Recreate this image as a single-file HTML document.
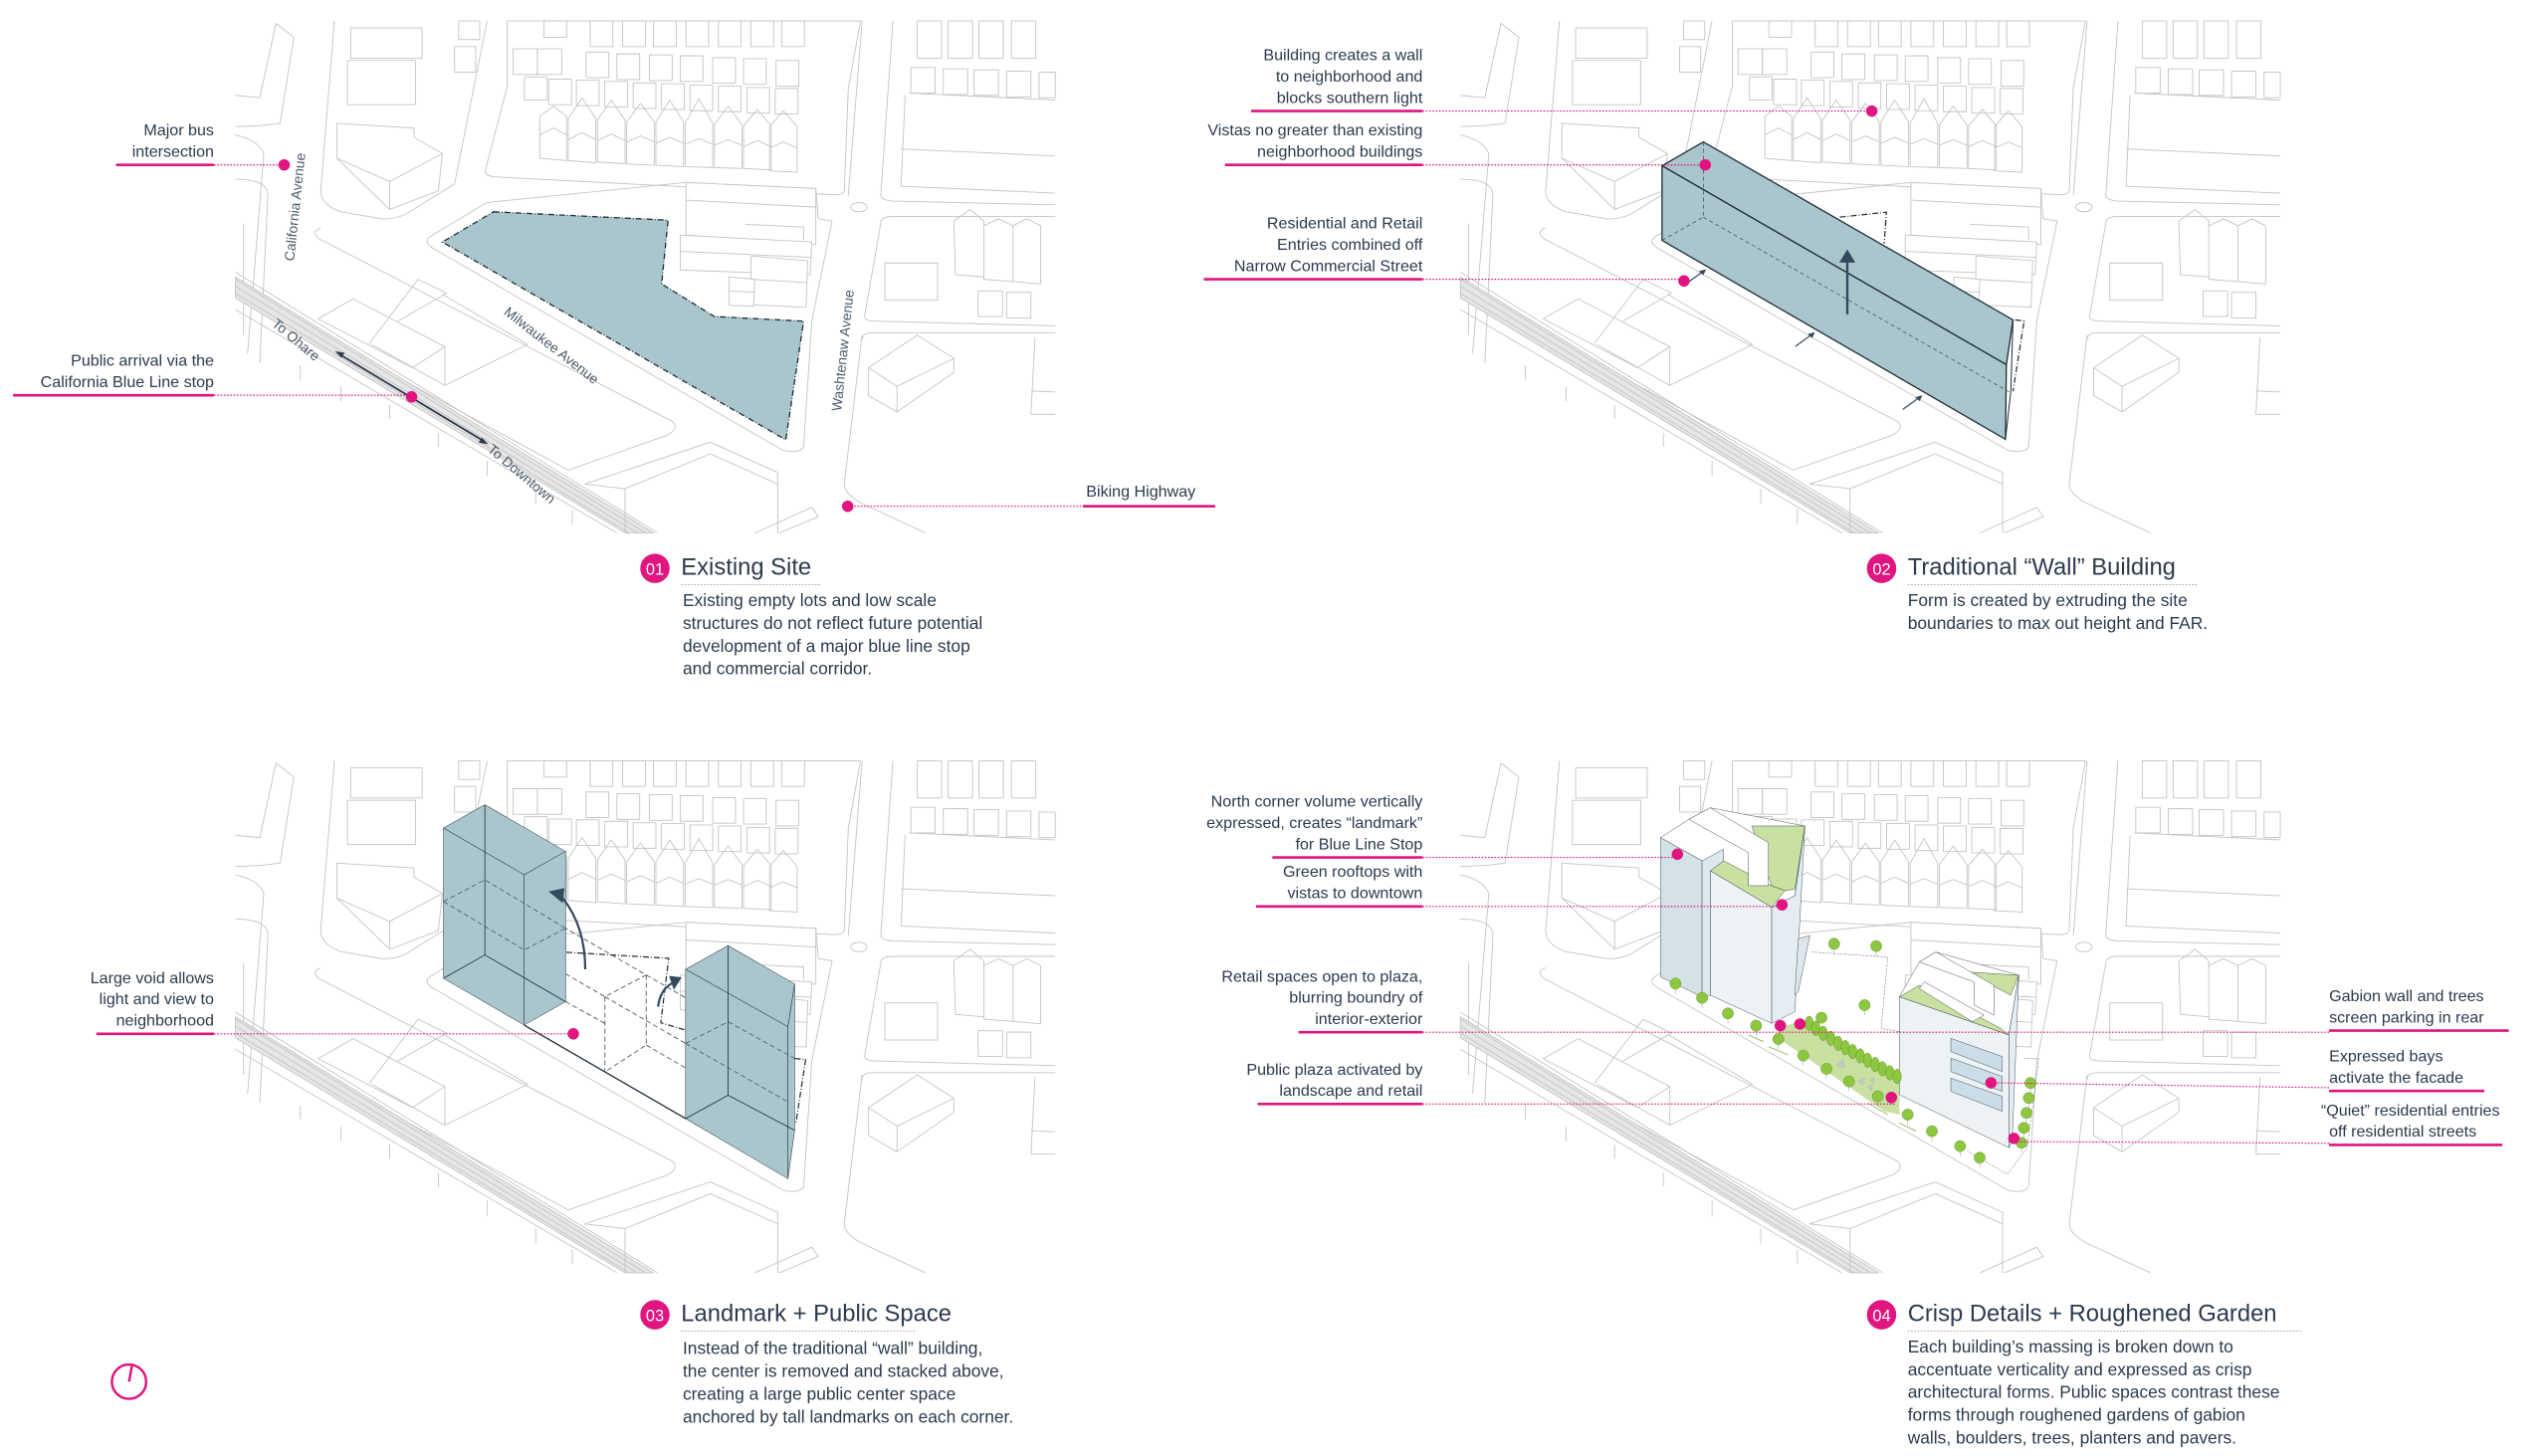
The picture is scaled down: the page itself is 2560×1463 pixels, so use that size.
<!DOCTYPE html>
<html><head><meta charset="utf-8">
<style>
html,body{margin:0;padding:0;background:#fff;}
svg{display:block;}
.lb{font-family:"Liberation Sans",sans-serif;font-size:9.8px;fill:#2b3a4e;}
.bd{font-family:"Liberation Sans",sans-serif;font-size:10.6px;fill:#2b3a4e;}
.tt{font-family:"Liberation Sans",sans-serif;font-size:14.5px;fill:#2b3a4e;}
.rd{font-family:"Liberation Sans",sans-serif;font-size:8.5px;fill:#4a5a6a;}
.m *{fill:none;stroke:#c4c4c4;stroke-width:0.9;vector-effect:non-scaling-stroke;stroke-linejoin:round;}
.m .w{fill:#fff;}
.m .rb{fill:#e6e6e6;}
.ul{stroke:#e0157f;stroke-width:1.6;}
.dl{stroke:#e0157f;stroke-width:0.7;stroke-dasharray:1 1;}
.pd{fill:#e0157f;}
.ns{vector-effect:non-scaling-stroke;}
</style></head>
<body>
<svg width="2560" height="1463" viewBox="0 0 1560 891.5" preserveAspectRatio="none" xmlns="http://www.w3.org/2000/svg">
<defs>
<g id="map">
 <g class="m" transform="scale(0.497,0.285)">
  <path d="M290,205 L320,210 L340,50 L362,80 L345,265 L320,270 L290,272"/>
  <path d="M290,290 Q318,300 325,330 L305,760"/>
  <path d="M290,385 Q330,385 330,420 L320,780"/>
  <line x1="300" y1="480" x2="300" y2="720"/>
  <path d="M412,45 L395,410 Q395,440 420,455 L470,470 Q485,472 500,460 L560,395 L600,45"/>
  <rect x="432" y="60" width="88" height="65"/>
  <rect x="428" y="130" width="84" height="95"/>
  <rect x="560" y="100" width="26" height="55"/>
  <rect x="565" y="45" width="26" height="40"/>
  <path d="M415,265 L510,275 L510,295 L545,330 L540,410 L480,450 L415,340 Z M415,340 L480,390 L480,450 M480,390 L545,330"/>
  <path d="M625,45 L1060,45 L1045,190 L1040,410 Q1038,420 1025,418 L610,380 Q597,378 598,365 L625,185 Z"/>
  <g>
   <rect x="670" y="45" width="28" height="35"/><rect x="727" y="45" width="28" height="55"/><rect x="767" y="45" width="28" height="55"/><rect x="805" y="45" width="28" height="55"/><rect x="845" y="45" width="28" height="55"/><rect x="885" y="45" width="28" height="55"/><rect x="925" y="45" width="28" height="55"/><rect x="963" y="45" width="28" height="55"/>
   <rect x="632" y="105" width="30" height="55"/><rect x="662" y="105" width="30" height="55"/><rect x="722" y="112" width="28" height="55"/><rect x="760" y="116" width="28" height="55"/><rect x="800" y="118" width="28" height="55"/><rect x="838" y="120" width="28" height="55"/><rect x="878" y="124" width="28" height="55"/><rect x="916" y="126" width="28" height="55"/><rect x="956" y="130" width="28" height="55"/>
   <rect x="646" y="165" width="28" height="50"/><rect x="676" y="170" width="28" height="55"/><rect x="710" y="172" width="28" height="55"/><rect x="745" y="175" width="28" height="55"/><rect x="780" y="178" width="28" height="55"/><rect x="815" y="180" width="28" height="55"/><rect x="850" y="183" width="28" height="55"/><rect x="885" y="185" width="28" height="55"/><rect x="920" y="188" width="28" height="55"/><rect x="955" y="190" width="28" height="55"/>
  </g>
  <g>
   <path d="M665,250 L682,228 L698,250 L698,345 L665,340 Z M665,290 L682,275 L698,290"/>
   <path d="M700,255 L717,210 L734,255 L734,350 L700,345 Z M700,300 L717,285 L734,300"/>
   <path d="M736,258 L753,215 L770,258 L770,352 L736,348 Z M736,302 L753,288 L770,302"/>
   <path d="M772,262 L789,222 L806,262 L806,355 L772,352 Z M772,305 L789,292 L806,305"/>
   <path d="M808,262 L825,215 L842,262 L842,358 L808,355 Z M808,308 L825,295 L842,308"/>
   <path d="M844,265 L861,212 L878,265 L878,360 L844,358 Z M844,310 L861,298 L878,310"/>
   <path d="M880,268 L897,228 L914,268 L914,362 L880,360 Z M880,312 L897,300 L914,312"/>
   <path d="M916,270 L933,235 L950,270 L950,365 L916,362 Z M916,315 L933,302 L950,315"/>
   <path d="M948,272 L965,238 L982,272 L982,370 L948,367 Z M948,318 L965,305 L982,318"/>
  </g>
  <path d="M600,435 L845,392 L1005,405 L1008,470 L1025,475 L1000,690 L990,960 Q985,975 965,968 L535,535 Q520,520 530,508 Z"/>
  <path class="w" d="M845,392 L1005,405 L1005,525 L845,505 Z M845,430 L1005,445"/>
  <path class="w" d="M838,505 L1000,520 L998,590 L838,580 Z M838,540 L1000,553"/>
  <path class="w" d="M925,550 L995,560 L993,660 L925,655 Z M925,600 L995,607"/>
  <path class="w" d="M898,595 L930,600 L928,658 L898,656 Z M898,625 L930,628"/>
  <path d="M918,482 L990,488 L990,515"/>
  <path d="M395,490 Q383,497 392,512 L828,905 Q838,920 822,935 L700,1010 L290,620"/>
  <path d="M392,685 L435,642 L548,745 L508,790 Z M455,738 L515,600 L550,630 L490,690"/>
  <path d="M548,745 L548,828 L650,740 L545,632 M548,828 L458,740"/>
  <path class="rb" d="M290,595 L805,1145 L770,1145 L290,640 Z"/>
  <line x1="290" y1="585" x2="810" y2="1145"/><line x1="290" y1="600" x2="795" y2="1145"/><line x1="290" y1="615" x2="785" y2="1145"/><line x1="290" y1="630" x2="775" y2="1145"/><line x1="290" y1="665" x2="760" y2="1145"/>
  <path d="M370,785 V815 M420,830 V862 M480,870 V900 M540,930 V960 M600,990 V1022 M660,1050 V1082 M705,1095 V1125"/>
  <path d="M720,1040 L875,950 L958,1015 L958,1145 M770,1145 L770,1050 L720,1040 M770,1050 L875,975 L958,1040"/>
  <path d="M930,1145 L1000,1090 L1008,1110 L960,1145"/>
  <path d="M1062,45 L1045,420 M1062,720 L1040,1040 Q1040,1060 1060,1080 L1140,1145"/>
  <circle cx="1058" cy="445" r="10"/>
  <path d="M1100,45 L1085,420 Q1085,430 1100,432 L1300,440"/>
  <rect x="1130" y="45" width="30" height="80"/><rect x="1168" y="45" width="30" height="80"/><rect x="1206" y="45" width="30" height="80"/><rect x="1246" y="45" width="30" height="80"/>
  <rect x="1122" y="145" width="30" height="55"/><rect x="1162" y="148" width="30" height="55"/><rect x="1200" y="150" width="30" height="55"/><rect x="1240" y="153" width="30" height="55"/><rect x="1280" y="155" width="20" height="55"/>
  <path d="M1120,200 L1300,215 M1115,205 L1110,400 L1300,415 M1110,320 L1300,335"/>
  <path d="M1300,465 L1100,465 Q1085,465 1085,480 L1065,680 Q1065,690 1080,690 L1300,700"/>
  <path d="M1175,475 L1195,450 L1212,475 L1212,595 L1177,590 Z M1212,485 L1230,470 L1248,485 L1248,605 L1212,600 Z M1248,485 L1265,470 L1282,485 L1282,610 L1248,605 Z"/>
  <rect x="1090" y="565" width="65" height="80"/><rect x="1205" y="625" width="30" height="55"/><rect x="1240" y="628" width="30" height="55"/>
  <path class="w" d="M1070,790 L1130,720 L1175,770 L1175,800 L1105,885 L1070,850 Z M1070,790 L1105,830 L1175,770 M1105,830 L1105,885"/>
  <path d="M1300,715 L1075,715 Q1062,715 1062,730 M1275,725 L1270,890 L1300,890 M1270,840 L1300,842"/>
 </g>
</g>
</defs>

<use href="#map"/>
<use href="#map" x="750"/>
<use href="#map" y="453"/>
<use href="#map" x="750" y="453"/>

<!-- PANEL 1 -->
<g transform="scale(0.497,0.285)">
 <path class="ns" d="M608,455 L823,473 L815,610 L880,680 L990,690 L968,945 L545,520 Z" fill="#a9c6cd" stroke="#1e2a36" stroke-width="1.3" stroke-dasharray="6 2 1 2"/>
</g>
<text class="rd" transform="translate(180,160) rotate(-84)">California Avenue</text>
<text class="rd" transform="translate(308,192) rotate(38)">Milwaukee Avenue</text>
<text class="rd" transform="translate(515,252) rotate(-84)">Washtenaw Avenue</text>
<text class="rd" transform="translate(166,199) rotate(40)">To Ohare</text>
<text class="rd" transform="translate(298,276) rotate(40)">To Downtown</text>
<line x1="208" y1="217" x2="296" y2="270" stroke="#2b3a4e" stroke-width="1.1"/>
<path d="M205,215 l6,1 l-2,3 z M299,272 l-6,-1 l2,-3 z" fill="#2b3a4e"/>

<text class="lb" text-anchor="end" x="131" y="83">Major bus</text>
<text class="lb" text-anchor="end" x="131" y="96">intersection</text>
<line class="ul" x1="71" y1="101" x2="131" y2="101"/><line class="dl" x1="131" y1="101" x2="172" y2="101"/><circle class="pd" cx="174" cy="101" r="3.5"/>
<text class="lb" text-anchor="end" x="131" y="224">Public arrival via the</text>
<text class="lb" text-anchor="end" x="131" y="237">California Blue Line stop</text>
<line class="ul" x1="8" y1="242" x2="131" y2="242"/><line class="dl" x1="131" y1="242" x2="250" y2="242"/><circle class="pd" cx="252" cy="243" r="3.5"/>
<text class="lb" x="665" y="304">Biking Highway</text>
<line class="ul" x1="663" y1="310" x2="744" y2="310"/><line class="dl" x1="521" y1="310" x2="663" y2="310"/><circle class="pd" cx="519" cy="310" r="3.5"/>

<circle class="pd" cx="401" cy="348" r="9"/><text x="401" y="352" text-anchor="middle" font-family="Liberation Sans" font-size="10" fill="#fff">01</text>
<text class="tt" x="417" y="352">Existing Site</text>
<line x1="417" y1="358" x2="503" y2="358" stroke="#aaa" stroke-width="0.6" stroke-dasharray="1 1"/>
<text class="bd" x="418" y="371">Existing empty lots and low scale</text>
<text class="bd" x="418" y="385">structures do not reflect future potential</text>
<text class="bd" x="418" y="399">development of a major blue line stop</text>
<text class="bd" x="418" y="413">and commercial corridor.</text>

<!-- PANEL 2 -->
<g transform="translate(877.5,60.9) scale(0.272,0.203)">
 <path class="ns" d="M915,355 L1020,340 L1015,435" fill="none" stroke="#1e2a36" stroke-width="1.2" stroke-dasharray="6 2 1 2"/>
 <path class="ns" d="M1310,665 L1330,668 L1305,880" fill="none" stroke="#1e2a36" stroke-width="1.2" stroke-dasharray="6 2 1 2"/>
 <path class="ns" d="M515,200 L608,128 L1305,665 L1290,800 Z" fill="#a9c6cd" stroke="#1e2a36" stroke-width="1.3"/>
 <path class="ns" d="M515,200 L1290,800 L1288,1025 L515,425 Z" fill="#a9c6cd" stroke="#1e2a36" stroke-width="1.3"/>
 <path class="ns" d="M1305,665 L1300,880 L1288,1025" fill="none" stroke="#1e2a36" stroke-width="1"/>
 <path class="ns" d="M608,128 L608,355 L515,425 M608,355 L1300,885" fill="none" stroke="#34495e" stroke-width="0.7" stroke-dasharray="4 3"/>
 <path class="ns" d="M932,648 L932,490" stroke="#34495e" stroke-width="2.4"/>
 <path d="M932,452 L950,492 L914,492 Z" fill="#34495e"/>
 <path class="ns" d="M570,555 L608,518 M815,745 L853,708 M1057,935 L1095,898" stroke="#34495e" stroke-width="1.2"/>
 <path d="M614,512 L598,518 L608,530 Z M859,702 L843,708 L853,720 Z M1101,892 L1085,898 L1095,910 Z" fill="#34495e"/>
</g>
<text class="lb" text-anchor="end" x="871" y="37">Building creates a wall</text>
<text class="lb" text-anchor="end" x="871" y="50">to neighborhood and</text>
<text class="lb" text-anchor="end" x="871" y="63">blocks southern light</text>
<line class="ul" x1="766" y1="68" x2="871" y2="68"/><line class="dl" x1="871" y1="68" x2="1144" y2="68"/><circle class="pd" cx="1146" cy="68" r="3.5"/>
<text class="lb" text-anchor="end" x="871" y="83">Vistas no greater than existing</text>
<text class="lb" text-anchor="end" x="871" y="96">neighborhood buildings</text>
<line class="ul" x1="750" y1="101" x2="871" y2="101"/><line class="dl" x1="871" y1="101" x2="1042" y2="101"/><circle class="pd" cx="1044" cy="101" r="3.5"/>
<text class="lb" text-anchor="end" x="871" y="140">Residential and Retail</text>
<text class="lb" text-anchor="end" x="871" y="153">Entries combined off</text>
<text class="lb" text-anchor="end" x="871" y="166">Narrow Commercial Street</text>
<line class="ul" x1="737" y1="171" x2="871" y2="171"/><line class="dl" x1="871" y1="171" x2="1029" y2="171"/><circle class="pd" cx="1031" cy="172" r="3.5"/>
<circle class="pd" cx="1152" cy="348" r="9"/><text x="1152" y="352" text-anchor="middle" font-family="Liberation Sans" font-size="10" fill="#fff">02</text>
<text class="tt" x="1168" y="352">Traditional “Wall” Building</text>
<line x1="1168" y1="358" x2="1346" y2="358" stroke="#aaa" stroke-width="0.6" stroke-dasharray="1 1"/>
<text class="bd" x="1168" y="371">Form is created by extruding the site</text>
<text class="bd" x="1168" y="385">boundaries to max out height and FAR.</text>

<!-- PANEL 3 -->
<g transform="translate(140.2,475.3) scale(0.241,0.2045)">
 <path class="ns" d="M857,527 L1117,545 L1097,738 L1160,760 M1437,845 L1465,848 L1440,1040" fill="none" stroke="#1e2a36" stroke-width="1.2" stroke-dasharray="6 2 1 2"/>
 <path class="ns" d="M750,745 L1160,1025" fill="none" stroke="#1e2a36" stroke-width="1.3"/>
 <path class="ns" d="M545,375 L650,310 L855,455 L750,520 Z M750,520 L955,660 L1060,595 L855,455 M955,660 L955,885 M1060,595 L1060,805 L955,885 M955,660 L1160,800 M1060,595 L1265,735 M1060,805 L1265,945 M855,675 L955,740 M855,455 L855,520" fill="none" stroke="#34495e" stroke-width="0.8" stroke-dasharray="5 3"/>
 <g class="ns" fill="#a9c6cd" stroke="#1e2a36" stroke-width="1.3">
  <path d="M545,155 L650,85 L855,225 L750,295 Z"/>
  <path d="M545,155 L750,295 L750,745 L545,605 Z"/>
  <path d="M750,295 L855,225 L855,675 L750,745 Z"/>
  <path d="M1160,578 L1268,507 L1437,622 L1420,750 Z"/>
  <path d="M1160,578 L1420,750 L1420,1205 L1160,1025 Z"/>
  <path d="M1420,750 L1437,622 L1437,1060 L1420,1205 Z"/>
 </g>
 <path class="ns" d="M650,85 L650,535 L545,605 M650,535 L855,675 M1268,507 L1268,955 L1160,1025 M1268,955 L1437,1060" fill="none" stroke="#1e2a36" stroke-width="0.8"/>
 <path class="ns" d="M545,375 L650,310 L855,455 M545,375 L750,520 L855,455 M1160,800 L1268,735 L1437,845 M1160,800 L1420,975" fill="none" stroke="#34495e" stroke-width="0.7" stroke-dasharray="5 3"/>
 <path class="ns" d="M905,578 Q905,450 848,365" fill="none" stroke="#34495e" stroke-width="2.2"/>
 <path d="M812,345 L852,335 L848,380 Z" fill="#34495e"/>
 <path class="ns" d="M1090,690 Q1095,640 1125,620" fill="none" stroke="#34495e" stroke-width="2.2"/>
 <path d="M1150,602 L1118,598 L1130,640 Z" fill="#34495e"/>
</g>
<text class="lb" text-anchor="end" x="131" y="602">Large void allows</text>
<text class="lb" text-anchor="end" x="131" y="615">light and view to</text>
<text class="lb" text-anchor="end" x="131" y="628">neighborhood</text>
<line class="ul" x1="59" y1="633" x2="131" y2="633"/><line class="dl" x1="131" y1="633" x2="349" y2="633"/><circle class="pd" cx="351" cy="633" r="3.5"/>
<circle cx="79" cy="846" r="10.5" fill="none" stroke="#e0157f" stroke-width="1.5"/>
<line x1="79" y1="846" x2="81" y2="835" stroke="#e0157f" stroke-width="1.5"/>
<circle class="pd" cx="401" cy="805" r="9"/><text x="401" y="809" text-anchor="middle" font-family="Liberation Sans" font-size="10" fill="#fff">03</text>
<text class="tt" x="417" y="809">Landmark + Public Space</text>
<line x1="417" y1="815" x2="560" y2="815" stroke="#aaa" stroke-width="0.6" stroke-dasharray="1 1"/>
<text class="bd" x="418" y="829">Instead of the traditional “wall” building,</text>
<text class="bd" x="418" y="843">the center is removed and stacked above,</text>
<text class="bd" x="418" y="857">creating a large public center space</text>
<text class="bd" x="418" y="871">anchored by tall landmarks on each corner.</text>

<!-- PANEL 4 -->
<g transform="translate(1011.6,475.3) scale(0.2031)">
 <g class="ns" stroke="#1e2a36" stroke-width="1.2">
  <path d="M480,530 L710,545 L690,760 L745,770 M1120,850 L1165,852 L1130,1120 L1070,1200 L950,1130" fill="none" stroke-dasharray="6 2 1 2" stroke-width="1.1"/>
  <path d="M380,760 L440,740 L745,905 L745,1020 L700,1010 L380,790 Z" fill="#c8e0a0" stroke="none"/>
  <path d="M25,185 L110,130 L175,95 L460,150 L430,360 L360,395 L175,285 L150,255 Z" fill="#fff"/>
  <path d="M300,150 L460,150 L430,340 L400,345 L360,330 Z" fill="#c8e0a0"/>
  <path d="M175,285 L215,255 L360,330 L400,345 L360,395 Z" fill="#c8e0a0"/>
  <path d="M110,130 L175,95 L350,200 L350,330 L290,330 L290,230 Z" fill="#fff"/>
  <path d="M25,185 L150,255 L150,665 L25,605 Z" fill="#d4e2e8"/>
  <path d="M150,255 L215,220 L215,255 L175,285 L175,660 L150,665 Z" fill="#dde8ee"/>
  <path d="M175,285 L360,395 L360,745 L175,660 Z" fill="#edf2f5"/>
  <path d="M360,395 L430,360 L460,150 L430,710 L360,745 Z" fill="#e4edf2"/>
  <path d="M440,490 L475,480 L440,650 L430,660 Z" fill="#dde8ee"/>
  <path d="M805,560 L855,530 L1105,600 L1075,780 L745,665 Z" fill="#fff"/>
  <path d="M950,590 L1105,600 L1080,660 Z" fill="#c8e0a0"/>
  <path d="M745,665 L805,630 L1050,760 L1075,780 Z" fill="#c8e0a0"/>
  <path d="M805,640 L820,620 L1000,720 L965,740 Z" fill="#fff"/>
  <path d="M805,560 L855,530 L1030,630 L1030,720 L970,690 L970,620 Z" fill="#fff"/>
  <path d="M745,665 L1075,780 L1075,1120 L745,960 Z" fill="#edf2f5"/>
  <path d="M1075,780 L1105,600 L1085,1100 L1075,1120 Z" fill="#e4edf2"/>
  <path d="M900,790 L1055,845 L1055,890 L900,830 Z M900,850 L1055,905 L1055,950 L900,890 Z M900,910 L1055,965 L1055,1010 L900,950 Z" fill="#cbdde6"/>
  <path d="M290,780 L335,800 M350,815 L410,840 M650,985 L710,1020 M745,1045 L795,1070" stroke="#9bbf6a" stroke-width="3"/>
 </g>
 <g fill="#bcc" stroke="#888" stroke-width="0.5" class="ns"><path d="M555,870 L575,855 L580,880 Z M620,920 L640,910 L635,930 Z M650,935 L665,930 L660,950 Z M655,915 L668,908 L668,925 Z"/></g>
 <g stroke="#333" stroke-width="0.8" class="ns" fill="none">
  <path d="M70,625 v30 M150,668 v30 M228,715 v30 M313,752 v30 M380,792 v30 M455,842 v30 M525,882 v30 M593,920 v30 M680,965 v30 M770,1020 v30 M843,1070 v30 M928,1115 v30 M987,1150 v30 M548,505 v30 M675,512 v30 M640,690 v30 M1140,925 v30 M1135,970 v30 M1128,1015 v30 M1120,1060 v30 M1113,1105 v30"/>
 </g>
 <g fill="#8dc63f" stroke="#3f6e1e" stroke-width="0.8" class="ns">
  <circle cx="70" cy="625" r="17"/><circle cx="150" cy="668" r="17"/><circle cx="228" cy="715" r="17"/><circle cx="313" cy="752" r="17"/><circle cx="380" cy="792" r="17"/><circle cx="455" cy="842" r="17"/><circle cx="525" cy="882" r="17"/><circle cx="593" cy="920" r="17"/><circle cx="680" cy="965" r="17"/><circle cx="770" cy="1020" r="17"/><circle cx="843" cy="1070" r="17"/><circle cx="928" cy="1115" r="17"/><circle cx="987" cy="1150" r="17"/>
  <circle cx="548" cy="505" r="17"/><circle cx="675" cy="512" r="17"/><circle cx="640" cy="690" r="17"/>
  <circle cx="1140" cy="925" r="17"/><circle cx="1135" cy="970" r="17"/><circle cx="1128" cy="1015" r="17"/><circle cx="1120" cy="1060" r="17"/><circle cx="1113" cy="1105" r="17"/>
  <ellipse cx="473" cy="745" rx="13" ry="22"/><ellipse cx="493" cy="760" rx="13" ry="22"/><ellipse cx="515" cy="775" rx="13" ry="22"/><ellipse cx="538" cy="790" rx="13" ry="22"/><ellipse cx="560" cy="805" rx="13" ry="22"/><ellipse cx="582" cy="818" rx="13" ry="22"/><ellipse cx="604" cy="830" rx="13" ry="22"/><ellipse cx="627" cy="843" rx="13" ry="22"/><ellipse cx="649" cy="856" rx="13" ry="22"/><ellipse cx="672" cy="869" rx="13" ry="22"/><ellipse cx="694" cy="882" rx="13" ry="22"/><ellipse cx="716" cy="894" rx="13" ry="22"/><ellipse cx="738" cy="905" rx="13" ry="22"/><circle cx="510" cy="728" r="17"/>
 </g>
</g>
<text class="lb" text-anchor="end" x="871" y="494">North corner volume vertically</text>
<text class="lb" text-anchor="end" x="871" y="507">expressed, creates “landmark”</text>
<text class="lb" text-anchor="end" x="871" y="520">for Blue Line Stop</text>
<line class="ul" x1="779" y1="525" x2="871" y2="525"/><line class="dl" x1="871" y1="525" x2="1025" y2="525"/><circle class="pd" cx="1027" cy="523" r="3.5"/>
<text class="lb" text-anchor="end" x="871" y="537">Green rooftops with</text>
<text class="lb" text-anchor="end" x="871" y="550">vistas to downtown</text>
<line class="ul" x1="769" y1="555" x2="871" y2="555"/><line class="dl" x1="871" y1="555" x2="1089" y2="555"/><circle class="pd" cx="1091" cy="554" r="3.5"/>
<text class="lb" text-anchor="end" x="871" y="601">Retail spaces open to plaza,</text>
<text class="lb" text-anchor="end" x="871" y="614">blurring boundry of</text>
<text class="lb" text-anchor="end" x="871" y="627">interior-exterior</text>
<line class="ul" x1="795" y1="632" x2="871" y2="632"/><line class="dl" x1="871" y1="632" x2="1426" y2="632"/><circle class="pd" cx="1090" cy="628" r="3.5"/><circle class="pd" cx="1102" cy="627" r="3.5"/>
<text class="lb" text-anchor="end" x="871" y="658">Public plaza activated by</text>
<text class="lb" text-anchor="end" x="871" y="671">landscape and retail</text>
<line class="ul" x1="770" y1="676" x2="871" y2="676"/><line class="dl" x1="871" y1="676" x2="1161" y2="676"/><circle class="pd" cx="1158" cy="672" r="3.5"/>
<text class="lb" x="1426" y="613">Gabion wall and trees</text>
<text class="lb" x="1426" y="626">screen parking in rear</text>
<line class="ul" x1="1426" y1="631" x2="1536" y2="631"/>
<text class="lb" x="1426" y="650">Expressed bays</text>
<text class="lb" x="1426" y="663">activate the facade</text>
<line class="ul" x1="1426" y1="668" x2="1521" y2="668"/><circle class="pd" cx="1219" cy="663" r="3.5"/>
<line class="dl" x1="1221" y1="663" x2="1426" y2="666"/>
<text class="lb" x="1421" y="683">“Quiet” residential entries</text>
<text class="lb" x="1426" y="696">off residential streets</text>
<line class="ul" x1="1426" y1="701" x2="1532" y2="701"/><line class="dl" x1="1235" y1="699" x2="1426" y2="700"/><circle class="pd" cx="1233" cy="697" r="3.5"/>
<circle class="pd" cx="1152" cy="805" r="9"/><text x="1152" y="809" text-anchor="middle" font-family="Liberation Sans" font-size="10" fill="#fff">04</text>
<text class="tt" x="1168" y="809">Crisp Details + Roughened Garden</text>
<line x1="1168" y1="815" x2="1410" y2="815" stroke="#aaa" stroke-width="0.6" stroke-dasharray="1 1"/>
<text class="bd" x="1168" y="828">Each building’s massing is broken down to</text>
<text class="bd" x="1168" y="842">accentuate verticality and expressed as crisp</text>
<text class="bd" x="1168" y="856">architectural forms. Public spaces contrast these</text>
<text class="bd" x="1168" y="870">forms through roughened gardens of gabion</text>
<text class="bd" x="1168" y="884">walls, boulders, trees, planters and pavers.</text>
</svg>
</body></html>
